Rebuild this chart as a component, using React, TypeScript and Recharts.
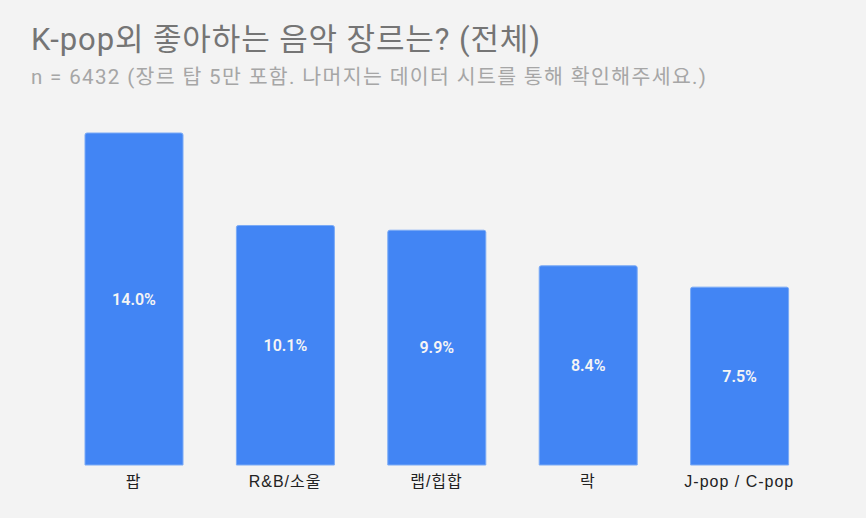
import { BarChart, Bar, XAxis, YAxis, LabelList } from "recharts";

const genres = ["팝", "R&B/소울", "랩/힙합", "락", "J-pop / C-pop"];
const shares = [14.0, 10.1, 9.9, 8.4, 7.5];

const title = "K-pop외 좋아하는 음악 장르는? (전체)";
const subtitle = "n = 6432 (장르 탑 5만 포함. 나머지는 데이터 시트를 통해 확인해주세요.)";

const data = genres.map((g, i) => ({ genre: g, share: shares[i] }));

const W = 866;
const H = 518;
const BG = "#f3f3f3";

export default function App() {
  return (
    <div style={{ position: "absolute", left: 0, top: 0, width: W, height: H, background: BG }}>
      <svg width={W} height={100} style={{ position: "absolute", left: 0, top: 0 }}>
        <text
          x={31}
          y={50}
          fontFamily="Roboto, 'Noto Sans CJK KR', sans-serif"
          fontSize={31}
          fill="#757575"
          textLength={509}
          lengthAdjust="spacing"
        >
          {title}
        </text>
        <text
          x={31}
          y={84}
          fontFamily="Roboto, 'Noto Sans CJK KR', sans-serif"
          fontSize={20.5}
          fill="#a6a6a6"
          textLength={675}
          lengthAdjust="spacing"
        >
          {subtitle}
        </text>
      </svg>
      <BarChart
        width={W}
        height={H}
        data={data}
        margin={{ top: 133, right: 51, bottom: 23, left: 58 }}
        barSize={98}
        style={{ position: "absolute", left: 0, top: 0 }}
      >
        <XAxis
          dataKey="genre"
          axisLine={false}
          tickLine={false}
          height={30}
          tick={{
            fill: "#222222",
            fontSize: 16,
            letterSpacing: 1,
            fontFamily: "'Liberation Sans', Arial, 'Noto Sans CJK KR', sans-serif",
          }}
          tickMargin={5}
          interval={0}
        />
        <YAxis hide domain={[0, 14]} />
        <Bar
          dataKey="share"
          fill="#4285f4"
          stroke="#7aaaf6"
          strokeWidth={1}
          radius={[2, 2, 0, 0]}
          isAnimationActive={false}
        >
          <LabelList
            dataKey="share"
            position="center"
            formatter={(v: number) => `${v.toFixed(1)}%`}
            fill="#f5f5f5"
            fontSize={16}
            fontWeight={600}
            fontFamily="Roboto, sans-serif"
          />
        </Bar>
      </BarChart>
    </div>
  );
}
